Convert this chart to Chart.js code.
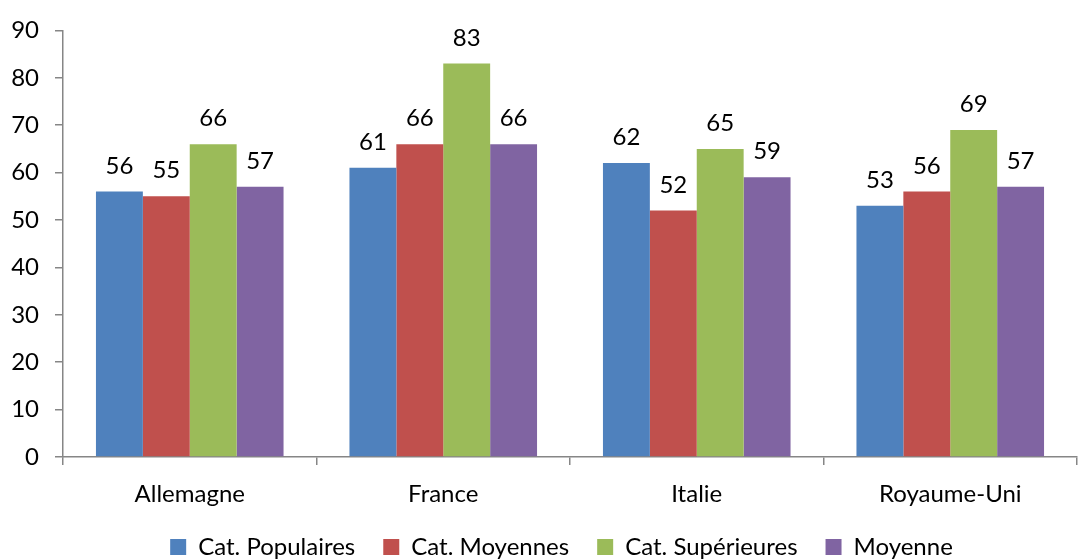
<!DOCTYPE html>
<html>
<head>
<meta charset="utf-8">
<script src="https://cdn.jsdelivr.net/npm/chart.js@4"></script>
<style>
  html, body { margin: 0; padding: 0; background: #fff; }
  #wrap { width: 1083px; height: 559px; }
</style>
</head>
<body>
<div id="wrap"><canvas id="barChart"></canvas></div>
<script>
// ===== DATA =====
const countries = ['Allemagne', 'France', 'Italie', 'Royaume-Uni'];
const populaires = [56, 61, 62, 53];
const moyennes = [55, 66, 52, 56];
const superieures = [66, 83, 65, 69];
const moyenne = [57, 66, 59, 57];
const seriesNames = ['Cat. Populaires', 'Cat. Moyennes', 'Cat. Supérieures', 'Moyenne'];
const yTicks = [0, 10, 20, 30, 40, 50, 60, 70, 80, 90];

const FONT = 'Lato, "Noto Sans", sans-serif';
const axisGray = '#868686';

// ===== VALUE LABELS ABOVE BARS =====
const valueLabels = {
  id: 'valueLabels',
  afterDatasetsDraw(chart) {
    const ctx = chart.ctx;
    ctx.save();
    ctx.font = '24px ' + FONT;
    ctx.fillStyle = '#000';
    ctx.textAlign = 'center';
    ctx.textBaseline = 'alphabetic';
    chart.data.datasets.forEach((ds, i) => {
      chart.getDatasetMeta(i).data.forEach((bar, j) => {
        ctx.fillText(ds.data[j], bar.x, bar.y - 18);
      });
    });
    ctx.restore();
  }
};

// ===== NUDGE LEGEND A BIT TO THE RIGHT (like the original) =====
const legendShift = {
  id: 'legendShift',
  afterLayout(chart) {
    if (chart.legend) chart.legend.left += 46;
  }
};

const ctx = document.getElementById('barChart').getContext('2d');
const barChart = new Chart(ctx, {
  type: 'bar',
  data: {
    labels: countries,
    datasets: [
      { label: seriesNames[0], data: populaires, backgroundColor: '#4F81BD' },
      { label: seriesNames[1], data: moyennes, backgroundColor: '#C0504D' },
      { label: seriesNames[2], data: superieures, backgroundColor: '#9BBB59' },
      { label: seriesNames[3], data: moyenne, backgroundColor: '#8064A2' }
    ]
  },
  options: {
    responsive: true,
    maintainAspectRatio: false,
    animation: false,
    devicePixelRatio: 1,
    layout: { padding: { top: 27, right: 6, left: 0, bottom: -10 } },
    datasets: {
      bar: { barPercentage: 1, categoryPercentage: 0.74 }
    },
    plugins: {
      legend: {
        position: 'bottom',
        labels: {
          font: { family: FONT, size: 24 },
          color: '#000',
          boxWidth: 16,
          boxHeight: 16,
          padding: 28
        }
      },
      tooltip: { enabled: false }
    },
    scales: {
      y: {
        min: 0,
        max: 90,
        afterBuildTicks: (scale) => { scale.ticks = yTicks.map(v => ({ value: v })); },
        afterFit: (scale) => { scale.width = 63; },
        border: { color: axisGray, width: 1.5 },
        grid: { drawOnChartArea: false, color: axisGray, tickLength: 8, lineWidth: 1.5 },
        ticks: { color: '#000', font: { family: FONT, size: 24 }, padding: 16 }
      },
      x: {
        afterFit: (scale) => { scale.height = 50; },
        border: { color: axisGray, width: 1.5 },
        grid: { drawOnChartArea: false, color: axisGray, tickLength: 8, lineWidth: 1.5, offset: true },
        ticks: { color: '#000', font: { family: FONT, size: 24 }, padding: 15 }
      }
    }
  },
  plugins: [valueLabels, legendShift]
});
</script>
</body>
</html>
